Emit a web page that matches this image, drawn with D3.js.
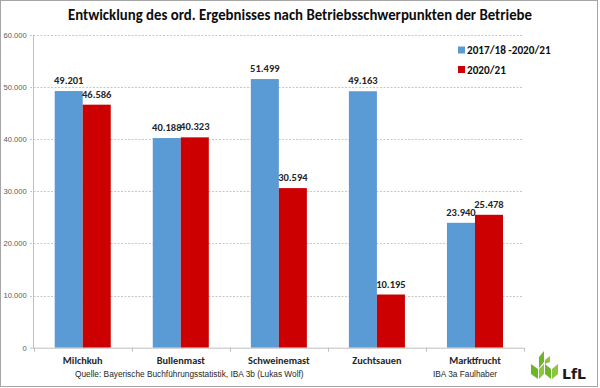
<!DOCTYPE html>
<html>
<head>
<meta charset="utf-8">
<script src="https://cdn.jsdelivr.net/npm/d3@7"></script>
<style>
  body { margin: 0; background: #fff; }
  svg { display: block; }
</style>
</head>
<body>
<script>
// chart data
var categories = ["Milchkuh", "Bullenmast", "Schweinemast", "Zuchtsauen", "Marktfrucht"];
var seriesNames = ["2017/18 -2020/21", "2020/21"];
var avgValues = [49201, 40188, 51499, 49163, 23940];
var curValues = [46586, 40323, 30594, 10195, 25478];
var yTicks = [0, 10000, 20000, 30000, 40000, 50000, 60000];
var colors = ["#5B9BD5", "#CC0000"];

var W = 600, H = 388;
var font = "Calibri, Carlito, Lato, sans-serif";

var de = d3.formatLocale({decimal: ",", thousands: ".", grouping: [3], currency: ["", " €"]});
var fmt = de.format(",.0f");

var svg = d3.select("body").append("svg").attr("width", W).attr("height", H);

// frame
svg.append("rect").attr("x", 0.5).attr("y", 0.5).attr("width", 597).attr("height", 386)
  .attr("fill", "#fff").attr("stroke", "#a6a6a6");

var x0 = d3.scaleBand().domain(categories).range([33.7, 524]);
var x1 = d3.scaleBand().domain(seriesNames).range([0, x0.bandwidth()]).paddingOuter(0.75);
var y = d3.scaleLinear().domain([0, 60000]).range([347.7, 34.7]);

// gridlines + y labels
var yAxis = d3.axisLeft(y).tickValues(yTicks).tickFormat(fmt).tickSize(0).tickPadding(7);
var gy = svg.append("g").attr("transform", "translate(33.7,0)").call(yAxis);
gy.select(".domain").remove();
gy.selectAll("text").attr("font-family", "'Liberation Sans', Arial, sans-serif")
  .attr("font-size", 7.6).attr("fill", "#595959");

svg.append("g").selectAll("line").data(yTicks.filter(d => d > 0)).join("line")
  .attr("x1", 30).attr("x2", 523)
  .attr("y1", d => Math.round(y(d)) + 0.5).attr("y2", d => Math.round(y(d)) + 0.5)
  .attr("stroke", "#c8c8c8").attr("stroke-dasharray", "2,1.5");

// y axis line
svg.append("line").attr("x1", 33.5).attr("x2", 33.5).attr("y1", y(60000)).attr("y2", y(0))
  .attr("stroke", "#bfbfbf");

// bars
var rows = categories.map((c, i) => ({cat: c, vals: [avgValues[i], curValues[i]]}));
var groups = svg.append("g").selectAll("g").data(rows).join("g")
  .attr("transform", d => "translate(" + x0(d.cat) + ",0)");

groups.selectAll("rect").data(d => d.vals.map((v, j) => ({s: seriesNames[j], v: v, j: j}))).join("rect")
  .attr("x", d => x1(d.s)).attr("width", x1.bandwidth())
  .attr("y", d => y(d.v)).attr("height", d => y(0) - y(d.v))
  .attr("fill", d => colors[d.j]);

groups.selectAll("text").data(d => d.vals.map((v, j) => ({s: seriesNames[j], v: v, j: j}))).join("text")
  .attr("x", d => x1(d.s) + x1.bandwidth() / 2)
  .attr("y", d => y(d.v) - 7)
  .attr("text-anchor", "middle")
  .attr("font-family", font).attr("font-weight", "bold").attr("font-size", 10.5)
  .attr("fill", "#262626")
  .text(d => fmt(d.v));

// x axis
var xAxis = d3.axisBottom(x0).tickSize(0).tickPadding(9);
var gx = svg.append("g").attr("transform", "translate(0," + y(0) + ")").call(xAxis);
gx.select(".domain").attr("stroke", "#bfbfbf").attr("d", "M30,0.5H524");
gx.selectAll("text").attr("font-family", font).attr("font-weight", "bold")
  .attr("font-size", 10.3).attr("fill", "#262626");
var edges = categories.map(c => x0(c)).concat([x0.range()[1]]);
gx.selectAll(".edge").data(edges).join("line").attr("class", "edge")
  .attr("x1", d => Math.round(d) + 0.5).attr("x2", d => Math.round(d) + 0.5)
  .attr("y1", 0).attr("y2", 4).attr("stroke", "#bfbfbf");

// title
svg.append("text").attr("x", 300).attr("y", 20).attr("text-anchor", "middle")
  .attr("font-family", font).attr("font-weight", "bold").attr("font-size", 15)
  .attr("fill", "#0d0d0d")
  .attr("textLength", 464).attr("lengthAdjust", "spacingAndGlyphs")
  .text("Entwicklung des ord. Ergebnisses nach Betriebsschwerpunkten der Betriebe");

// legend
var leg = svg.append("g").selectAll("g").data(seriesNames).join("g")
  .attr("transform", (d, i) => "translate(458," + (46.5 + i * 19.5) + ")");
leg.append("rect").attr("width", 7).attr("height", 7).attr("fill", (d, i) => colors[i]);
leg.append("text").attr("x", 9).attr("y", 7.5)
  .attr("font-family", font).attr("font-weight", "bold").attr("font-size", 11.2)
  .attr("fill", "#0d0d0d").text(d => d);

// source notes
svg.append("text").attr("x", 75).attr("y", 377)
  .attr("font-family", "'Liberation Sans', Arial, sans-serif").attr("font-size", 8.3)
  .attr("fill", "#262626")
  .text("Quelle: Bayerische Buchführungsstatistik, IBA 3b (Lukas Wolf)");
svg.append("text").attr("x", 433).attr("y", 377)
  .attr("font-family", "'Liberation Sans', Arial, sans-serif").attr("font-size", 8.3)
  .attr("fill", "#262626")
  .text("IBA 3a Faulhaber");

// LfL logo
var logo = svg.append("g").attr("transform", "translate(531,351)");
var leaves = [
  [[0, 13], [7, 18], [7, 28], [0, 23]],
  [[8, 18], [13, 13], [13, 23], [8, 28]],
  [[14, 13], [20, 18], [20, 28], [14, 23]],
  [[21, 18], [27, 13], [27, 23], [21, 28]],
  [[8, 6], [13, 0], [13, 11], [8, 17]],
  [[14, 9], [19, 5], [19, 11], [14, 13]]
];
logo.selectAll("path").data(leaves).join("path")
  .attr("d", d => "M" + d.map(p => p.join(",")).join("L") + "Z")
  .attr("fill", (d, i) => i % 2 ? "#8cc63f" : "#6fb52c");
svg.append("text").attr("x", 562).attr("y", 379)
  .attr("font-family", "'DejaVu Sans', sans-serif").attr("font-weight", "bold").attr("font-size", 14)
  .attr("fill", "#1a1a1a").text("LfL");
</script>
</body>
</html>
